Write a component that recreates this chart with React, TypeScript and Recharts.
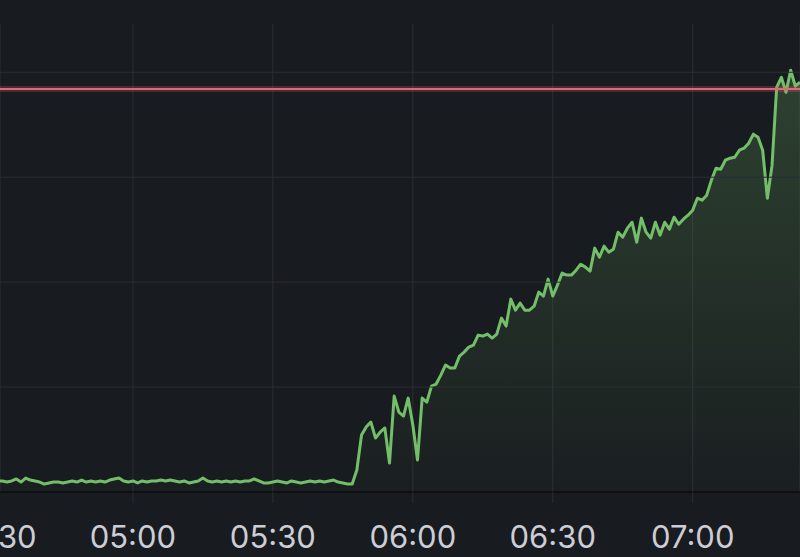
import React from "react";
import {
  AreaChart,
  Area,
  XAxis,
  YAxis,
  CartesianGrid,
  ReferenceLine,
} from "recharts";

// one sample per minute, starting at 04:31
const startMinute = 271;

// quiet period 04:31 - 05:47
const flatValues = [
  10.5, 10.5, 9.5, 10.5, 12.4, 9.5, 13.3, 11.4, 10.5, 9.5,
  7.6, 8.6, 9.5, 9.5, 8.6, 9.5, 10.5, 9.5, 11.4, 9.5,
  10.5, 9.5, 10.5, 9.5, 11.4, 12.4, 13.3, 10.5, 9.5, 10.5,
  8.6, 10.5, 9.5, 10.5, 10.5, 11.4, 10.5, 11.4, 10.5, 9.5,
  10.5, 8.6, 9.5, 10.5, 13.3, 10.5, 9.5, 10.5, 9.5, 10.5,
  9.5, 10.5, 9.5, 10.5, 10.5, 12.4, 10.5, 8.6, 8.6, 9.5,
  10.5, 9.5, 8.6, 10.5, 9.5, 8.6, 9.5, 10.5, 9.5, 10.5,
  9.5, 10.5, 11.4, 9.5, 8.6, 7.6, 7.6,
];

// ramp 05:48 - 07:23
const rampValues = [
  21.0, 54.3, 61.9, 66.7, 51.4, 57.1, 61.0, 27.6, 91.4, 76.2,
  72.4, 89.5, 63.8, 30.5, 89.5, 85.7, 101.0, 102.9, 111.4, 121.0,
  118.1, 118.1, 129.5, 133.3, 138.1, 140.0, 149.5, 148.6, 150.5, 146.7,
  150.5, 165.7, 158.1, 183.8, 173.3, 180.0, 173.3, 173.3, 177.1, 190.5,
  186.7, 202.9, 186.7, 197.1, 208.6, 206.7, 206.7, 211.4, 217.1, 214.3,
  210.5, 232.4, 223.8, 234.3, 228.6, 231.4, 247.6, 242.9, 251.4, 257.1,
  238.1, 261.0, 247.6, 241.9, 257.1, 244.8, 257.1, 250.5, 261.9, 255.2,
  260.0, 263.8, 268.6, 280.0, 278.1, 282.9, 297.1, 308.6, 307.6, 316.2,
  318.1, 319.0, 325.7, 327.6, 332.4, 341.0, 338.0, 325.7, 280.0, 311.0,
  385.7, 395.2, 381.0, 401.9, 386.7, 390.5,
];

const values = [...flatValues, ...rampValues];
const tickMinutes = [270, 300, 330, 360, 390, 420];
const gridValues = [100, 200, 300, 400];
const threshold = 384;

const data = values.map((v, i) => ({ t: startMinute + i, v }));

const fmtTime = (m: number) =>
  `${String(Math.floor(m / 60)).padStart(2, "0")}:${String(m % 60).padStart(2, "0")}`;

const gridColor = "#2b2e35";

export default function App() {
  return (
    <div
      style={{
        position: "fixed",
        left: 0,
        top: 0,
        width: 800,
        height: 557,
        background: "#181b1f",
      }}
    >
      <AreaChart
        width={800}
        height={557}
        data={data}
        margin={{ top: 24, right: 0, left: 0, bottom: 0 }}
      >
        <defs>
          <linearGradient
            id="greenFill"
            x1="0"
            y1="24"
            x2="0"
            y2="492"
            gradientUnits="userSpaceOnUse"
          >
            <stop offset="0%" stopColor="#73bf69" stopOpacity={0.26} />
            <stop offset="100%" stopColor="#73bf69" stopOpacity={0.02} />
          </linearGradient>
        </defs>
        <CartesianGrid stroke={gridColor} strokeWidth={1} horizontal={false} />
        {gridValues.map((g) => (
          <ReferenceLine key={g} y={g} stroke={gridColor} strokeWidth={1} />
        ))}
        <XAxis
          dataKey="t"
          type="number"
          domain={[271.5, 443]}
          allowDataOverflow
          ticks={tickMinutes}
          interval={0}
          tickFormatter={fmtTime}
          height={65}
          tickSize={11}
          tickMargin={23}
          axisLine={{ stroke: "#0b0c0f", strokeWidth: 1.5 }}
          tickLine={{ stroke: gridColor }}
          tick={{ fill: "#cdcdd6", fontSize: 31, fontFamily: "Inter, 'Liberation Sans', sans-serif" }}
        />
        <YAxis hide domain={[0, 446]} ticks={gridValues} allowDataOverflow />
        <ReferenceLine y={threshold} stroke="#e0566b" strokeOpacity={0.25} strokeWidth={6} />
        <ReferenceLine y={threshold} stroke="#e2677a" strokeWidth={2} />
        <Area
          type="linear"
          dataKey="v"
          stroke="#73bf69"
          strokeWidth={3}
          strokeLinejoin="round"
          fill="url(#greenFill)"
          fillOpacity={1}
          dot={false}
          activeDot={false}
          isAnimationActive={false}
        />
      </AreaChart>
    </div>
  );
}
